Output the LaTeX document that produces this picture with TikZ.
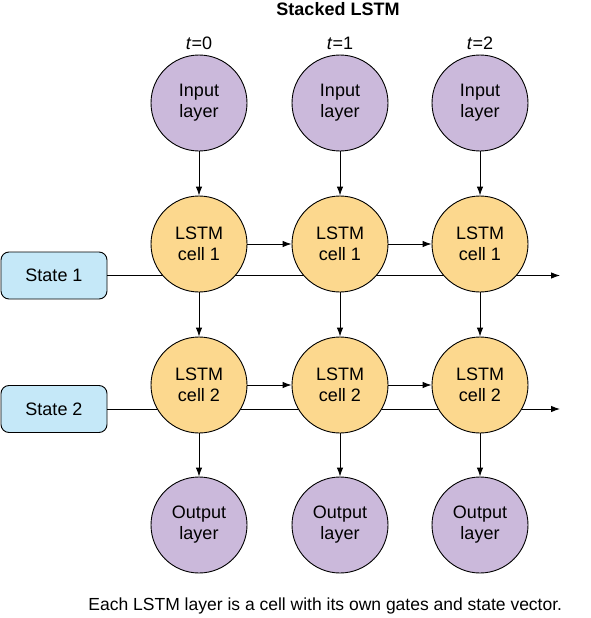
\documentclass[tikz,border=0pt]{standalone}
\usepackage{fontspec}
\setmainfont{Liberation Sans}
\usetikzlibrary{arrows.meta}
\definecolor{layerpurple}{RGB}{203,185,219}
\definecolor{cellyellow}{RGB}{252,216,142}
\definecolor{stateblue}{RGB}{197,232,248}

\begin{document}
\begin{tikzpicture}[x=1pt,y=1pt,>={Latex[length=9pt,width=6.5pt]},line width=0.9pt]
	\tikzstyle{every node}+=[inner sep=0pt,align=center,font=\fontsize{18}{21}\selectfont]
	\tikzstyle{layer}=[draw,circle,minimum size=96pt,fill=layerpurple]
	\tikzstyle{cell}=[draw,circle,minimum size=96pt,fill=cellyellow]
	\tikzstyle{statebox}=[draw,rounded corners=8pt,minimum width=106pt,minimum height=47pt,fill=stateblue]
	\useasboundingbox (0,0) rectangle (590,-618);
	\node (title) at (338,-9) {\bfseries Stacked LSTM};
	\node (t0) at (199,-43) {\textit{t}=0};
	\node (t1) at (340,-43) {\textit{t}=1};
	\node (t2) at (480,-43) {\textit{t}=2};
	% states run behind the cells
	\node [statebox] (s1) at (54,-275.5) {State 1};
	\node [statebox] (s2) at (54,-409) {State 2};
	\coordinate (e1) at (560,-275.5);
	\coordinate (e2) at (560,-409);
	\draw [->] (s1) -- (e1);
	\draw [->] (s2) -- (e2);
	% input layer
	\node [layer] (in0) at (199,-103) {Input\\layer};
	\node [layer] (in1) at (340,-103) {Input\\layer};
	\node [layer] (in2) at (480,-103) {Input\\layer};
	% first lstm layer
	\node [cell] (ca0) at (199,-244) {LSTM\\cell 1};
	\node [cell] (ca1) at (340,-244) {LSTM\\cell 1};
	\node [cell] (ca2) at (480,-244) {LSTM\\cell 1};
	% second lstm layer
	\node [cell] (cb0) at (199,-385) {LSTM\\cell 2};
	\node [cell] (cb1) at (340,-385) {LSTM\\cell 2};
	\node [cell] (cb2) at (480,-385) {LSTM\\cell 2};
	% output layer
	\node [layer] (out0) at (199,-525) {Output\\layer};
	\node [layer] (out1) at (340,-525) {Output\\layer};
	\node [layer] (out2) at (480,-525) {Output\\layer};
	\draw [->] (in0) -- (ca0);
	\draw [->] (in1) -- (ca1);
	\draw [->] (in2) -- (ca2);
	\draw [->] (ca0) -- (cb0);
	\draw [->] (ca1) -- (cb1);
	\draw [->] (ca2) -- (cb2);
	\draw [->] (cb0) -- (out0);
	\draw [->] (cb1) -- (out1);
	\draw [->] (cb2) -- (out2);
	\draw [->] (ca0) -- (ca1);
	\draw [->] (ca1) -- (ca2);
	\draw [->] (cb0) -- (cb1);
	\draw [->] (cb1) -- (cb2);
	\node [anchor=west] (caption) at (88,-606) {\fontsize{17.5}{20}\selectfont Each LSTM layer is a cell with its own gates and state vector.};
\end{tikzpicture}
\end{document}
